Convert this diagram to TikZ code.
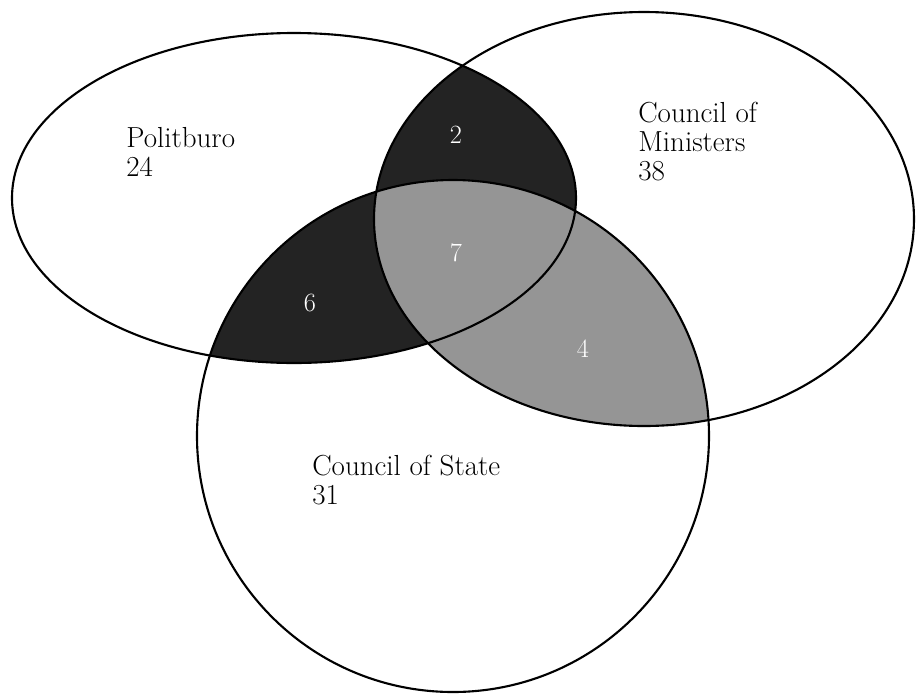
\documentclass[tikz,border=0pt]{standalone}
\definecolor{venndark}{HTML}{232323}
\definecolor{venngray}{HTML}{959595}
\begin{document}
\begin{tikzpicture}[line join=round, line cap=round, x=0.02cm, y=-0.02cm,
	ring/.style={line width=1.2pt, draw=black},
	lbl/.style={font=\fontsize{16.5}{16.3}\selectfont, align=left, inner sep=0pt, anchor=base west},
	num/.style={font=\fontsize{15}{16}\selectfont, text=white, inner sep=0pt}]
	%Canvas.
	\useasboundingbox (0,0) rectangle (917,694);
	%Centres.
	\coordinate (P) at (294,198);
	\coordinate (M) at (644,219);
	\coordinate (S) at (453,436);
	%Politburo shared with the others.
	\begin{scope}
		\clip (P) ellipse (282 and 165);
		\fill[venndark] (M) ellipse (270 and 207);
		\fill[venndark] (S) circle (256);
	\end{scope}
	%State and Ministers.
	\begin{scope}
		\clip (S) circle (256);
		\fill[venngray] (M) ellipse (270 and 207);
	\end{scope}
	%Outlines.
	\draw[ring] (P) ellipse (282 and 165);
	\draw[ring] (M) ellipse (270 and 207);
	\draw[ring] (S) circle (256);
	%Labels (anchored on the last line).
	\node[lbl] (pb) at (126,176) {Politburo\\24};
	\node[lbl] (cm) at (638,180) {Council of\\Ministers\\38};
	\node[lbl] (cs) at (312,504) {Council of State\\31};
	\node[num] (pm) at (456,135) {2};
	\node[num] (all) at (456,253) {7};
	\node[num] (ps) at (310,303) {6};
	\node[num] (ms) at (583,349) {4};
\end{tikzpicture}
\end{document}
